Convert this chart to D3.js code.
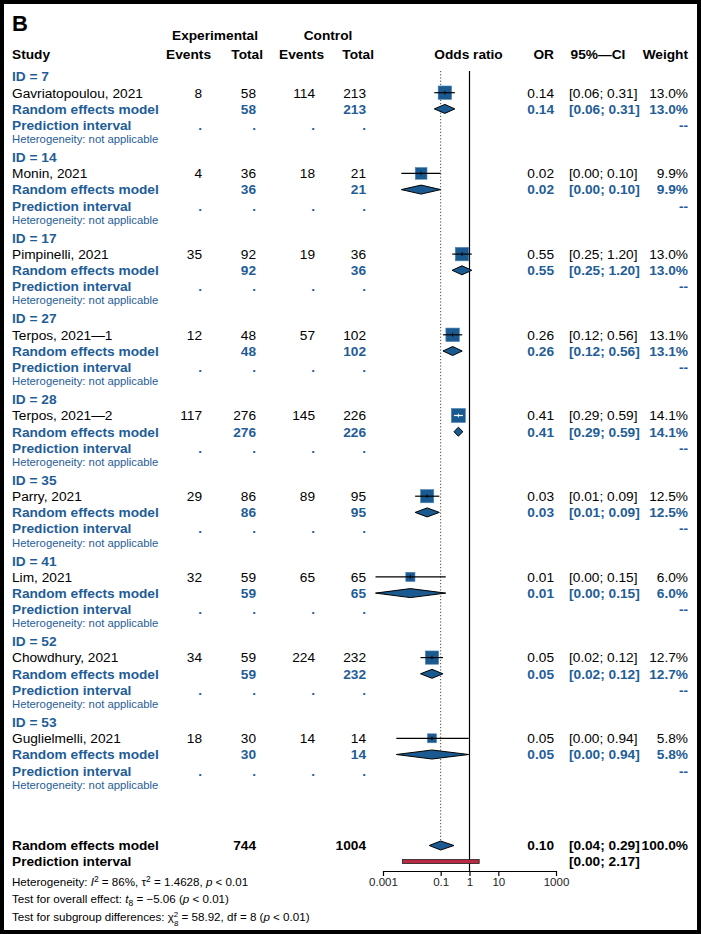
<!DOCTYPE html>
<html>
<head>
<meta charset="utf-8">
<script src="https://cdn.jsdelivr.net/npm/d3@7"></script>
<style>
  body { margin: 0; background: #fff; }
  svg text { font-family: "Liberation Sans", Arial, sans-serif; }
</style>
</head>
<body>
<div id="root"></div>
<script>
// Study data, one entry per subgroup (each subgroup holds a single study)
const ids = [7, 14, 17, 27, 28, 35, 41, 52, 53];
const studies = [
  "Gavriatopoulou, 2021",
  "Monin, 2021",
  "Pimpinelli, 2021",
  "Terpos, 2021—1",
  "Terpos, 2021—2",
  "Parry, 2021",
  "Lim, 2021",
  "Chowdhury, 2021",
  "Guglielmelli, 2021",
];
const expEvents = [8, 4, 35, 12, 117, 29, 32, 34, 18];
const expTotal = [58, 36, 92, 48, 276, 86, 59, 59, 30];
const ctrlEvents = [114, 18, 19, 57, 145, 89, 65, 224, 14];
const ctrlTotal = [213, 21, 36, 102, 226, 95, 65, 232, 14];
const oddsRatio = [0.14, 0.021, 0.55, 0.26, 0.41, 0.034, 0.0089, 0.05, 0.05];
const ciLower = [0.06, 0.0043, 0.25, 0.12, 0.29, 0.013, 0.00055, 0.02, 0.0029];
const ciUpper = [0.31, 0.1, 1.2, 0.56, 0.59, 0.09, 0.15, 0.12, 0.94];
const weights = [13.0, 9.9, 13.0, 13.1, 14.1, 12.5, 6.0, 12.7, 5.8];

// Overall random effects model
const overallTotals = [744, 1004];
const overallOR = [0.1, 0.04, 0.29]; // estimate, lower, upper
const overallWeight = 100.0;
const predInterval = [0.0047, 2.17];

const axisTicks = [0.001, 0.1, 1, 10, 1000];

const width = 701;
const height = 934;
const blue = "#1f5d97";
const boxBlue = "#1b5a90";
const fs = 13.7; // main text size
const fmt = (v) => v.toFixed(2);
const ciText = (lo, hi) => `[${fmt(lo)}; ${fmt(hi)}]`;

const svg = d3
  .select("#root")
  .append("svg")
  .attr("width", width)
  .attr("height", height);

// frame
svg
  .append("rect")
  .attr("x", 2)
  .attr("y", 2)
  .attr("width", width - 4)
  .attr("height", height - 4)
  .attr("fill", "none")
  .attr("stroke", "#000")
  .attr("stroke-width", 4);

const x = d3.scaleLog().domain([0.001, 1000]).range([383, 556]);
const boxSize = d3.scaleSqrt().domain([0, 14.1]).range([0, 14]);

// column anchors
const col = { label: 12, ev1: 202, tot1: 256, ev2: 315, tot2: 366, or: 554, ci: 569, w: 688 };

function txt(xp, y, s, opts = {}) {
  return svg
    .append("text")
    .attr("x", xp)
    .attr("y", y)
    .attr("text-anchor", opts.anchor || "start")
    .attr("font-size", opts.size || fs)
    .attr("font-weight", opts.bold ? "bold" : "normal")
    .attr("fill", opts.color || "#000")
    .text(s);
}

// Header
txt(12, 31, "B", { size: 22, bold: true });
txt(215, 40, "Experimental", { anchor: "middle", bold: true });
txt(328, 40, "Control", { anchor: "middle", bold: true });
const headY = 59;
txt(col.label, headY, "Study", { bold: true });
txt(211, headY, "Events", { anchor: "end", bold: true });
txt(263, headY, "Total", { anchor: "end", bold: true });
txt(324, headY, "Events", { anchor: "end", bold: true });
txt(374, headY, "Total", { anchor: "end", bold: true });
txt(x(1) - 1, headY, "Odds ratio", { anchor: "middle", bold: true });
txt(col.or, headY, "OR", { anchor: "end", bold: true });
txt(598, headY, "95%—CI", { anchor: "middle", bold: true });
txt(col.w, headY, "Weight", { anchor: "end", bold: true });

// reference lines
svg
  .append("line")
  .attr("x1", x(overallOR[0]))
  .attr("x2", x(overallOR[0]))
  .attr("y1", 71)
  .attr("y2", 840)
  .attr("stroke", "#444")
  .attr("stroke-dasharray", "1.2,2");
svg
  .append("line")
  .attr("x1", x(1))
  .attr("x2", x(1))
  .attr("y1", 71)
  .attr("y2", 871)
  .attr("stroke", "#000")
  .attr("stroke-width", 1.2);

function diamond(y, est, lo, hi, fill) {
  const h = 4.5;
  svg
    .append("path")
    .attr(
      "d",
      `M${x(lo)},${y} L${x(est)},${y - h} L${x(hi)},${y} L${x(est)},${y + h} Z`
    )
    .attr("fill", fill)
    .attr("stroke", "#000")
    .attr("stroke-width", 1);
}

// Subgroups
ids.forEach((id, i) => {
  const gy = 76.5 + 80.7 * i;
  const yS = gy + 16.2;
  const yR = gy + 32.4;
  const yP = gy + 48.6;
  const base = 4.8;

  txt(col.label, gy + base, `ID = ${id}`, { bold: true, color: blue });

  // study row
  txt(col.label, yS + base, studies[i]);
  txt(col.ev1, yS + base, expEvents[i], { anchor: "end" });
  txt(col.tot1, yS + base, expTotal[i], { anchor: "end" });
  txt(col.ev2, yS + base, ctrlEvents[i], { anchor: "end" });
  txt(col.tot2, yS + base, ctrlTotal[i], { anchor: "end" });
  txt(col.or, yS + base, fmt(oddsRatio[i]), { anchor: "end" });
  txt(col.ci, yS + base, ciText(ciLower[i], ciUpper[i]));
  txt(col.w, yS + base, weights[i].toFixed(1) + "%", { anchor: "end" });

  const s = boxSize(weights[i]);
  const cx = x(oddsRatio[i]);
  const inside = x(ciLower[i]) >= cx - s / 2 && x(ciUpper[i]) <= cx + s / 2;
  svg
    .append("rect")
    .attr("x", cx - s / 2)
    .attr("y", yS - s / 2)
    .attr("width", s)
    .attr("height", s)
    .attr("fill", boxBlue)
    .attr("stroke", "#4f84b5")
    .attr("stroke-width", 0.6);
  const lineCol = inside ? "#fff" : "#000";
  svg
    .append("line")
    .attr("x1", x(ciLower[i]))
    .attr("x2", x(ciUpper[i]))
    .attr("y1", yS)
    .attr("y2", yS)
    .attr("stroke", lineCol)
    .attr("stroke-width", 1.2);
  svg
    .append("line")
    .attr("x1", cx)
    .attr("x2", cx)
    .attr("y1", yS - 1.8)
    .attr("y2", yS + 1.8)
    .attr("stroke", lineCol)
    .attr("stroke-width", 1);

  // random effects model row
  txt(col.label, yR + base, "Random effects model", { bold: true, color: blue });
  txt(col.tot1, yR + base, expTotal[i], { anchor: "end", bold: true, color: blue });
  txt(col.tot2, yR + base, ctrlTotal[i], { anchor: "end", bold: true, color: blue });
  txt(col.or, yR + base, fmt(oddsRatio[i]), { anchor: "end", bold: true, color: blue });
  txt(col.ci, yR + base, ciText(ciLower[i], ciUpper[i]), { bold: true, color: blue });
  txt(col.w, yR + base, weights[i].toFixed(1) + "%", { anchor: "end", bold: true, color: blue });
  diamond(yR, oddsRatio[i], ciLower[i], ciUpper[i], boxBlue);

  // prediction interval row
  txt(col.label, yP + base, "Prediction interval", { bold: true, color: blue });
  [col.ev1, col.tot1, col.ev2, col.tot2].forEach((cxp) =>
    txt(cxp, yP + base, ".", { anchor: "end", bold: true, color: blue })
  );
  txt(col.w, yP + base, "--", { anchor: "end", bold: true, color: blue });

  txt(col.label, gy + 62.5 + 4, "Heterogeneity: not applicable", { size: 11.3, color: blue });
});

// Overall
const yO = 845.5;
const yOP = 861.5;
txt(col.label, yO + 4.8, "Random effects model", { bold: true });
txt(col.tot1, yO + 4.8, overallTotals[0], { anchor: "end", bold: true });
txt(col.tot2, yO + 4.8, overallTotals[1], { anchor: "end", bold: true });
txt(col.or, yO + 4.8, fmt(overallOR[0]), { anchor: "end", bold: true });
txt(col.ci, yO + 4.8, ciText(overallOR[1], overallOR[2]), { bold: true });
txt(col.w, yO + 4.8, overallWeight.toFixed(1) + "%", { anchor: "end", bold: true });
diamond(yO, overallOR[0], overallOR[1], overallOR[2], boxBlue);

txt(col.label, yOP + 4.8, "Prediction interval", { bold: true });
txt(col.ci, yOP + 4.8, ciText(predInterval[0], predInterval[1]), { bold: true });
svg
  .append("rect")
  .attr("x", x(predInterval[0]))
  .attr("y", yOP - 2)
  .attr("width", x(predInterval[1]) - x(predInterval[0]))
  .attr("height", 4)
  .attr("fill", "#b92a42")
  .attr("stroke", "#222")
  .attr("stroke-width", 0.8);

// x axis
const xAxis = d3
  .axisBottom(x)
  .tickValues(axisTicks)
  .tickFormat((d) => String(d))
  .tickSize(5)
  .tickSizeOuter(0);
const gAxis = svg.append("g").attr("transform", "translate(0,871)").call(xAxis);
gAxis.select(".domain").attr("stroke-width", 1.2);
gAxis.selectAll(".tick line").attr("stroke-width", 1.2);
gAxis
  .selectAll(".tick text")
  .attr("font-size", 11.5)
  .attr("font-family", '"Liberation Sans", Arial, sans-serif')
  .attr("fill", "#222")
  .attr("dy", "0.6em");

// bottom statistics
function stat(y, parts) {
  const t = svg.append("text").attr("x", 12).attr("y", y).attr("font-size", 11.6);
  parts.forEach((p) => {
    const sp = t.append("tspan").text(p.t);
    if (p.i) sp.attr("font-style", "italic");
    if (p.dy) sp.attr("dy", p.dy);
    if (p.dx) sp.attr("dx", p.dx);
    if (p.s) sp.attr("font-size", p.s);
  });
}
stat(886, [
  { t: "Heterogeneity: " },
  { t: "I", i: true },
  { t: "2", s: 8.5, dy: -4 },
  { t: " = 86%, τ", dy: 4 },
  { t: "2", s: 8.5, dy: -4 },
  { t: " = 1.4628, ", dy: 4 },
  { t: "p", i: true },
  { t: " < 0.01" },
]);
stat(903, [
  { t: "Test for overall effect: " },
  { t: "t", i: true },
  { t: "8", s: 8.5, dy: 3 },
  { t: " = −5.06 (", dy: -3 },
  { t: "p", i: true },
  { t: " < 0.01)" },
]);
stat(921, [
  { t: "Test for subgroup differences: χ" },
  { t: "2", s: 8, dy: -4.5 },
  { t: "8", s: 8, dy: 9, dx: -4.4 },
  { t: " = 58.92, df = 8 (", dy: -4.5 },
  { t: "p", i: true },
  { t: " < 0.01)" },
]);
</script>
</body>
</html>
